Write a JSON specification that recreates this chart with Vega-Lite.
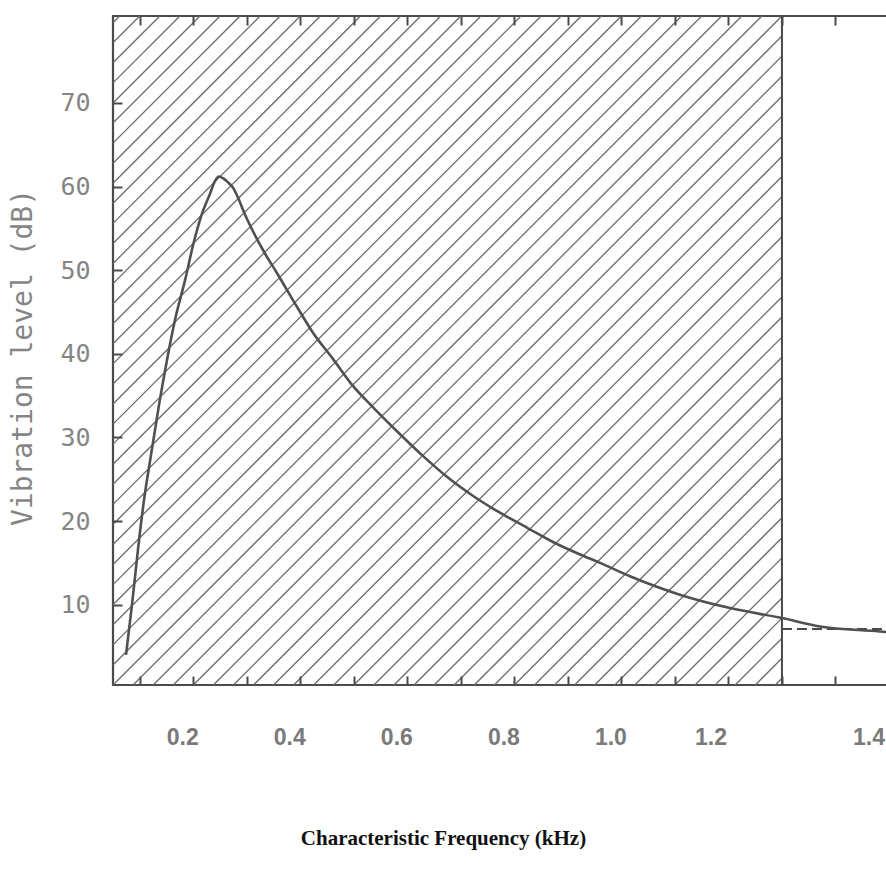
{
  "$schema": "https://vega.github.io/schema/vega-lite/v6.json",
  "width": 776,
  "height": 669,
  "autosize": {"type": "none"},
  "padding": {"left": 113, "top": 16, "right": 0, "bottom": 194},
  "background": "white",
  "config": {"view": {"stroke": "#4a4a4a", "strokeWidth": 2.2}},
  "datasets": {
    "curve": [
      {"x": 0.0743, "y": 4.0}, {"x": 0.0855, "y": 10.0}, {"x": 0.0977, "y": 17.2},
      {"x": 0.1079, "y": 22.5}, {"x": 0.121, "y": 27.9}, {"x": 0.136, "y": 33.9},
      {"x": 0.151, "y": 39.3}, {"x": 0.166, "y": 44.1}, {"x": 0.185, "y": 48.9},
      {"x": 0.200, "y": 53.1}, {"x": 0.216, "y": 56.7}, {"x": 0.231, "y": 59.1},
      {"x": 0.240, "y": 60.6}, {"x": 0.248, "y": 61.2}, {"x": 0.2555, "y": 61.0},
      {"x": 0.265, "y": 60.5}, {"x": 0.274, "y": 59.9}, {"x": 0.282, "y": 58.9},
      {"x": 0.297, "y": 56.6}, {"x": 0.312, "y": 54.6}, {"x": 0.334, "y": 52.0},
      {"x": 0.356, "y": 49.7}, {"x": 0.394, "y": 45.6}, {"x": 0.424, "y": 42.5},
      {"x": 0.461, "y": 39.4}, {"x": 0.498, "y": 36.2}, {"x": 0.536, "y": 33.6},
      {"x": 0.583, "y": 30.6}, {"x": 0.629, "y": 27.8}, {"x": 0.674, "y": 25.3},
      {"x": 0.723, "y": 23.0}, {"x": 0.773, "y": 21.0}, {"x": 0.824, "y": 19.2},
      {"x": 0.872, "y": 17.5}, {"x": 0.923, "y": 16.0}, {"x": 0.96, "y": 15.0},
      {"x": 1.016, "y": 13.4}, {"x": 1.109, "y": 11.2}, {"x": 1.203, "y": 9.6},
      {"x": 1.3, "y": 8.4}, {"x": 1.371, "y": 7.4}, {"x": 1.483, "y": 6.8},
      {"x": 1.5, "y": 6.7}
    ],
    "hatch": [
      {"x": 0.05, "y": 0.4, "x2": 1.3, "y2": 80.4},
      {"x": 0.0875, "y": 0.4, "x2": 1.3, "y2": 78.0},
      {"x": 0.125, "y": 0.4, "x2": 1.3, "y2": 75.6},
      {"x": 0.1625, "y": 0.4, "x2": 1.3, "y2": 73.2},
      {"x": 0.2, "y": 0.4, "x2": 1.3, "y2": 70.8},
      {"x": 0.2375, "y": 0.4, "x2": 1.3, "y2": 68.4},
      {"x": 0.275, "y": 0.4, "x2": 1.3, "y2": 66.0},
      {"x": 0.3125, "y": 0.4, "x2": 1.3, "y2": 63.6},
      {"x": 0.35, "y": 0.4, "x2": 1.3, "y2": 61.2},
      {"x": 0.3875, "y": 0.4, "x2": 1.3, "y2": 58.8},
      {"x": 0.425, "y": 0.4, "x2": 1.3, "y2": 56.4},
      {"x": 0.4625, "y": 0.4, "x2": 1.3, "y2": 54.0},
      {"x": 0.5, "y": 0.4, "x2": 1.3, "y2": 51.6},
      {"x": 0.5375, "y": 0.4, "x2": 1.3, "y2": 49.2},
      {"x": 0.575, "y": 0.4, "x2": 1.3, "y2": 46.8},
      {"x": 0.6125, "y": 0.4, "x2": 1.3, "y2": 44.4},
      {"x": 0.65, "y": 0.4, "x2": 1.3, "y2": 42.0},
      {"x": 0.6875, "y": 0.4, "x2": 1.3, "y2": 39.6},
      {"x": 0.725, "y": 0.4, "x2": 1.3, "y2": 37.2},
      {"x": 0.7625, "y": 0.4, "x2": 1.3, "y2": 34.8},
      {"x": 0.8, "y": 0.4, "x2": 1.3, "y2": 32.4},
      {"x": 0.8375, "y": 0.4, "x2": 1.3, "y2": 30.0},
      {"x": 0.875, "y": 0.4, "x2": 1.3, "y2": 27.6},
      {"x": 0.9125, "y": 0.4, "x2": 1.3, "y2": 25.2},
      {"x": 0.95, "y": 0.4, "x2": 1.3, "y2": 22.8},
      {"x": 0.9875, "y": 0.4, "x2": 1.3, "y2": 20.4},
      {"x": 1.025, "y": 0.4, "x2": 1.3, "y2": 18.0},
      {"x": 1.0625, "y": 0.4, "x2": 1.3, "y2": 15.6},
      {"x": 1.1, "y": 0.4, "x2": 1.3, "y2": 13.2},
      {"x": 1.1375, "y": 0.4, "x2": 1.3, "y2": 10.8},
      {"x": 1.175, "y": 0.4, "x2": 1.3, "y2": 8.4},
      {"x": 1.2125, "y": 0.4, "x2": 1.3, "y2": 6.0},
      {"x": 1.25, "y": 0.4, "x2": 1.3, "y2": 3.6},
      {"x": 1.2875, "y": 0.4, "x2": 1.3, "y2": 1.2},
      {"x": 0.05, "y": 2.8, "x2": 1.2625, "y2": 80.4},
      {"x": 0.05, "y": 5.2, "x2": 1.225, "y2": 80.4},
      {"x": 0.05, "y": 7.6, "x2": 1.1875, "y2": 80.4},
      {"x": 0.05, "y": 10.0, "x2": 1.15, "y2": 80.4},
      {"x": 0.05, "y": 12.4, "x2": 1.1125, "y2": 80.4},
      {"x": 0.05, "y": 14.8, "x2": 1.075, "y2": 80.4},
      {"x": 0.05, "y": 17.2, "x2": 1.0375, "y2": 80.4},
      {"x": 0.05, "y": 19.6, "x2": 1.0, "y2": 80.4},
      {"x": 0.05, "y": 22.0, "x2": 0.9625, "y2": 80.4},
      {"x": 0.05, "y": 24.4, "x2": 0.925, "y2": 80.4},
      {"x": 0.05, "y": 26.8, "x2": 0.8875, "y2": 80.4},
      {"x": 0.05, "y": 29.2, "x2": 0.85, "y2": 80.4},
      {"x": 0.05, "y": 31.6, "x2": 0.8125, "y2": 80.4},
      {"x": 0.05, "y": 34.0, "x2": 0.775, "y2": 80.4},
      {"x": 0.05, "y": 36.4, "x2": 0.7375, "y2": 80.4},
      {"x": 0.05, "y": 38.8, "x2": 0.7, "y2": 80.4},
      {"x": 0.05, "y": 41.2, "x2": 0.6625, "y2": 80.4},
      {"x": 0.05, "y": 43.6, "x2": 0.625, "y2": 80.4},
      {"x": 0.05, "y": 46.0, "x2": 0.5875, "y2": 80.4},
      {"x": 0.05, "y": 48.4, "x2": 0.55, "y2": 80.4},
      {"x": 0.05, "y": 50.8, "x2": 0.5125, "y2": 80.4},
      {"x": 0.05, "y": 53.2, "x2": 0.475, "y2": 80.4},
      {"x": 0.05, "y": 55.6, "x2": 0.4375, "y2": 80.4},
      {"x": 0.05, "y": 58.0, "x2": 0.4, "y2": 80.4},
      {"x": 0.05, "y": 60.4, "x2": 0.3625, "y2": 80.4},
      {"x": 0.05, "y": 62.8, "x2": 0.325, "y2": 80.4},
      {"x": 0.05, "y": 65.2, "x2": 0.2875, "y2": 80.4},
      {"x": 0.05, "y": 67.6, "x2": 0.25, "y2": 80.4},
      {"x": 0.05, "y": 70.0, "x2": 0.2125, "y2": 80.4},
      {"x": 0.05, "y": 72.4, "x2": 0.175, "y2": 80.4},
      {"x": 0.05, "y": 74.8, "x2": 0.1375, "y2": 80.4},
      {"x": 0.05, "y": 77.2, "x2": 0.1, "y2": 80.4},
      {"x": 0.05, "y": 79.6, "x2": 0.0625, "y2": 80.4}
    ],
    "boundary": [{"x": 1.3}],
    "dashed": [{"x": 1.3, "x2": 1.5, "y": 7.1}]
  },
  "layer": [
    {
      "data": {"name": "hatch"},
      "mark": {"type": "rule", "color": "#6a6a6a", "strokeWidth": 1.3},
      "encoding": {
        "x": {"field": "x", "type": "quantitative",
          "scale": {"domain": [0.05, 1.5], "nice": false, "zero": false},
          "axis": {"orient": "top", "values": [0.1,0.2,0.3,0.4,0.5,0.6,0.7,0.8,0.9,1.0,1.1,1.2,1.3,1.4],
            "labels": false, "domain": false, "grid": false, "title": null, "zindex": 1,
            "tickSize": -9, "tickWidth": 2, "tickColor": "#4a4a4a"}},
        "x2": {"field": "x2"},
        "y": {"field": "y", "type": "quantitative",
          "scale": {"domain": [0.4, 80.4], "nice": false, "zero": false},
          "axis": {"values": [10, 20, 30, 40, 50, 60, 70], "domain": false, "grid": false, "zindex": 1,
            "tickSize": -9, "tickWidth": 2, "tickColor": "#4a4a4a",
            "labelFont": "DejaVu Sans Mono", "labelFontSize": 25, "labelColor": "#858585",
            "labelPadding": 32,
            "title": "Vibration level (dB)",
            "titleFont": "DejaVu Sans Mono", "titleFontWeight": "normal", "titleFontSize": 28,
            "titleColor": "#858585", "titleX": -90, "titleY": 341, "titleAngle": 270,
            "titleAlign": "center", "titleBaseline": "middle"}},
        "y2": {"field": "y2"}
      }
    },
    {
      "data": {"name": "boundary"},
      "mark": {"type": "rule", "color": "#4a4a4a", "strokeWidth": 2},
      "encoding": {
        "x": {"field": "x", "type": "quantitative",
          "scale": {"domain": [0.05, 1.5], "nice": false, "zero": false}, "axis": null}
      }
    },
    {
      "data": {"name": "dashed"},
      "mark": {"type": "rule", "color": "#4a4a4a", "strokeWidth": 2, "strokeDash": [10, 5]},
      "encoding": {
        "x": {"field": "x", "type": "quantitative",
          "scale": {"domain": [0.05, 1.5], "nice": false, "zero": false}, "axis": null},
        "x2": {"field": "x2"},
        "y": {"field": "y", "type": "quantitative",
          "scale": {"domain": [0.4, 80.4], "nice": false, "zero": false}}
      }
    },
    {
      "data": {"name": "curve"},
      "mark": {"type": "line", "color": "#505050", "strokeWidth": 2.6, "interpolate": "monotone"},
      "encoding": {
        "x": {"field": "x", "type": "quantitative",
          "scale": {"domain": [0.05, 1.5], "nice": false, "zero": false},
          "axis": {"orient": "bottom", "values": [0.1,0.2,0.3,0.4,0.5,0.6,0.7,0.8,0.9,1.0,1.1,1.2,1.3,1.4],
            "labelExpr": "round(datum.value*10) % 2 == 0 ? format(datum.value, '.1f') : ''",
            "domain": false, "grid": false, "zindex": 1,
            "tickSize": -9, "tickWidth": 2, "tickColor": "#4a4a4a",
            "labelFont": "Liberation Sans", "labelFontWeight": "bold", "labelFontSize": 23,
            "labelColor": "#7a7a7a", "labelPadding": 50, "labelFlush": false, "labelOverlap": false,
            "labelOffset": {"condition": [{"test": "datum.value > 1.35", "value": 33}, {"test": "datum.value > 1.15", "value": -18}], "value": -11},
            "title": "Characteristic Frequency (kHz)",
            "titleFont": "Liberation Serif", "titleFontWeight": "bold", "titleFontSize": 21,
            "titleColor": "#111111", "titleX": 330, "titleY": 153,
            "titleAlign": "center", "titleBaseline": "middle"}},
        "y": {"field": "y", "type": "quantitative",
          "scale": {"domain": [0.4, 80.4], "nice": false, "zero": false}}
      }
    }
  ],
  "resolve": {"axis": {"x": "independent"}}
}
